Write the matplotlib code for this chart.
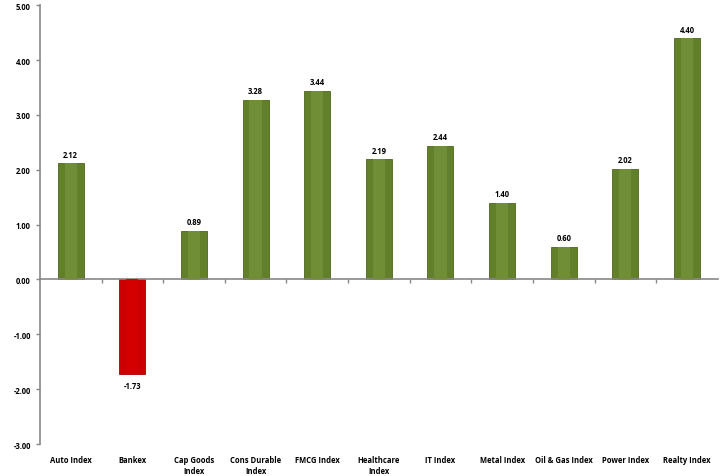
import matplotlib.pyplot as plt
import numpy as np
from matplotlib.ticker import MultipleLocator, FixedLocator

categories = ['Auto Index', 'Bankex', 'Cap Goods\nIndex', 'Cons Durable\nIndex', 'FMCG Index',
              'Healthcare\nIndex', 'IT Index', 'Metal Index', 'Oil & Gas Index', 'Power Index',
              'Realty Index']
values = [2.12, -1.73, 0.89, 3.28, 3.44, 2.19, 2.44, 1.40, 0.60, 2.02, 4.40]

plt.rcParams['font.family'] = ['Open Sans', 'DejaVu Sans']

fig = plt.figure(figsize=(7.25, 4.77), dpi=100)
ax = fig.add_axes([0.055, 0.067, 0.935, 0.92])

x = np.arange(len(values))
colors = ['#cc0000' if v < 0 else '#62802a' for v in values]
edges = ['#b00000' if v < 0 else '#4c661c' for v in values]
ax.bar(x, values, width=0.42, color=colors, edgecolor=edges, linewidth=0.6, zorder=2)
# lighter center stripe to suggest the shaded bars
ax.bar(x, values, width=0.2, color=['#d40000' if v < 0 else '#6f8e35' for v in values],
       linewidth=0, zorder=3)

for xi, v in zip(x, values):
    if v >= 0:
        ax.text(xi, v + 0.08, f'{v:.2f}', ha='center', va='bottom', fontsize=5.5, fontweight='bold')
    else:
        ax.text(xi, v - 0.12, f'{v:.2f}', ha='center', va='top', fontsize=5.5, fontweight='bold')

ax.set_xlim(-0.5, len(values) - 0.5)
ax.set_ylim(-3, 5)
ax.yaxis.set_major_locator(MultipleLocator(1))
ax.yaxis.set_major_formatter(lambda v, p: f'{v:.2f}')
ax.tick_params(axis='y', labelsize=5.5, length=3, color='#888888', width=1)
for lab in ax.get_yticklabels():
    lab.set_fontweight('bold')

ax.spines['top'].set_visible(False)
ax.spines['right'].set_visible(False)
ax.spines['left'].set_color('#888888')
ax.spines['left'].set_linewidth(1.2)
ax.spines['bottom'].set_position(('data', 0))
ax.spines['bottom'].set_color('#888888')
ax.spines['bottom'].set_linewidth(1.2)

ax.xaxis.set_major_locator(FixedLocator(np.arange(0.5, len(values) - 0.5)))
ax.tick_params(axis='x', length=3, color='#888888', width=1, labelbottom=False)

for xi, c in zip(x, categories):
    ax.text(xi, -3.2, c, ha='center', va='top', fontsize=5.5, fontweight='bold',
            linespacing=1.3)

fig.savefig('out.png', dpi=100)
